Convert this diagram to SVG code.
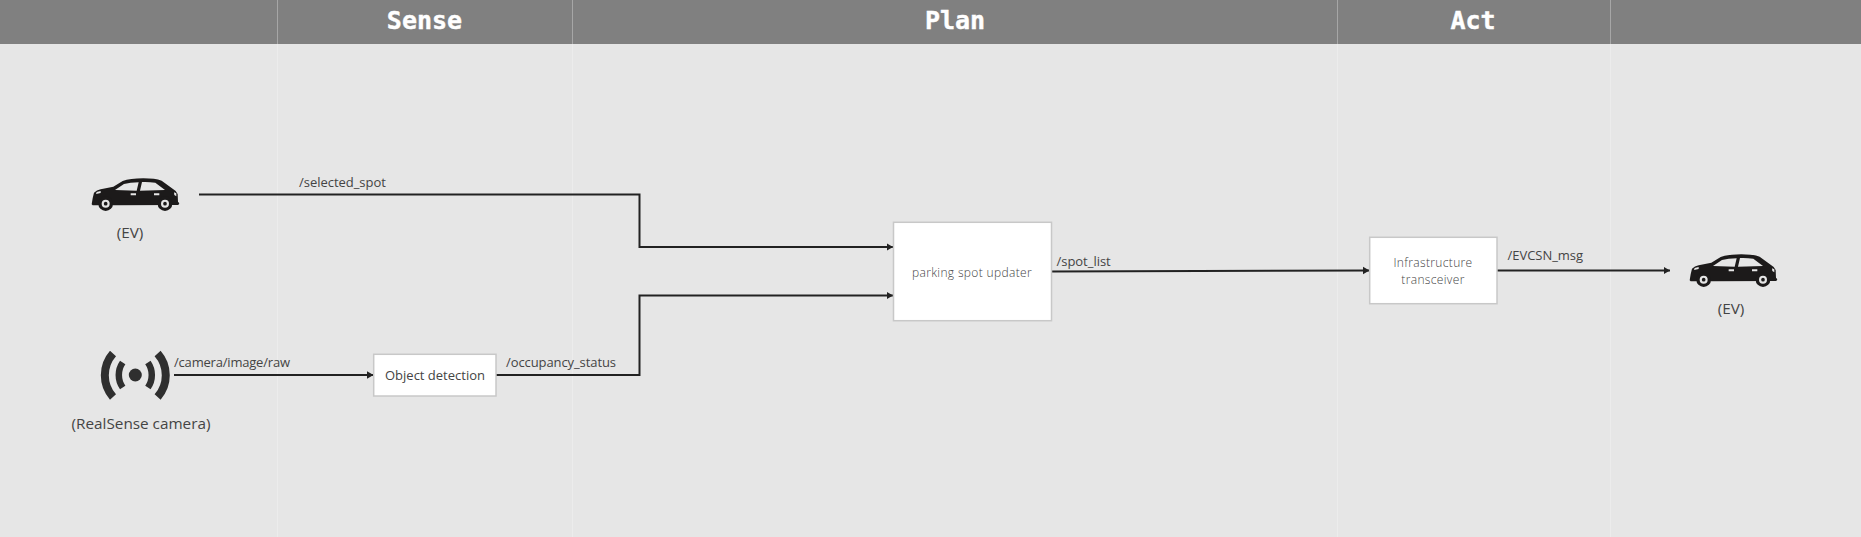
<svg xmlns="http://www.w3.org/2000/svg" width="1861" height="537" viewBox="0 0 1861 537">
<style>
text{font-family:"Open Sans","Noto Sans",sans-serif;fill:#444}
.hd{font-family:"DejaVu Sans Mono","Liberation Mono",monospace;font-weight:700;font-size:25px;fill:#fff;text-anchor:middle;stroke:#fff;stroke-width:.4}
.lb{font-size:13px;letter-spacing:-.03px}
.cap{font-size:15.300px}
.nd{fill:#fff;stroke:#c8c8c8;stroke-width:1.5}
.tx{text-anchor:middle;font-size:13px}
.sm{text-anchor:middle;font-size:12px;letter-spacing:.35px;font-weight:300}
.cn{fill:none;stroke:#222;stroke-width:2}
.ar{marker-end:url(#ah)}
.cl{stroke:#ececec;stroke-width:1}
.ch{stroke:#a6a6a6;stroke-width:1}
.ic{fill:none;stroke:#2f2f2f}
</style>
<defs>
<marker id="ah" markerUnits="userSpaceOnUse" markerWidth="8" markerHeight="9" viewBox="0 -4.500 8 9" refX="6.500" refY="0" orient="auto"><path d="M0,-3.800L6.500,0L0,3.800z" fill="#222"/></marker>
<symbol id="car" overflow="visible">
<path fill="#1c1a1a" fill-rule="evenodd" d="M35,103L38,85L42,68Q50,60 62,58L100,50L128,33Q150,26 190,25Q225,25 245,32L280,58Q291,64 293,72L294,95L298,100L295,105L100,106L38,106z M105,60L170,62L176,37Q150,37 132,42z M180,62L255,60L226,38Q205,35 186,36z"/>
<path fill="#e6e6e6" d="M152,70h16v6h-16z M222,70h16v6h-16z M50,66l12,-3v6l-14,3z M282,67l7,3v9l-6,-4z"/>
<circle cx="77" cy="101" r="22" fill="#1c1a1a"/><circle cx="77" cy="101" r="12" fill="#e6e6e6"/><circle cx="77" cy="101" r="5.500" fill="#1c1a1a"/>
<circle cx="255" cy="101" r="22" fill="#1c1a1a"/><circle cx="255" cy="101" r="12" fill="#e6e6e6"/><circle cx="255" cy="101" r="5.500" fill="#1c1a1a"/>
</symbol>
</defs>
<rect width="1861" height="537" fill="#e6e6e6"/>
<g id="header">
<rect width="1861" height="44" fill="#808080"/>
<path class="cl" d="M277.5,44V537M572.5,44V537M1337.5,44V537M1610.5,44V537"/>
<path class="ch" d="M277.5,0V44M572.5,0V44M1337.5,0V44M1610.5,0V44"/>
<text class="hd" x="424.500" y="29">Sense</text>
<text class="hd" x="955" y="29">Plan</text>
<text class="hd" x="1473" y="29">Act</text>
</g>
<g id="connectors">
<path class="cn ar" d="M199,194.500H639.500V247H893"/>
<path class="cn ar" d="M496,375H639.500V295.500H893"/>
<path class="cn ar" d="M174,375H373.500"/>
<path class="cn ar" d="M1051.500,271.500L1369.500,270.500"/>
<path class="cn ar" d="M1497,270.500H1670"/>
<text class="lb" x="299" y="187.300">/selected_spot</text>
<text class="lb" x="174" y="367" textLength="116" lengthAdjust="spacing">/camera/image/raw</text>
<text class="lb" x="506" y="367" textLength="110" lengthAdjust="spacing">/occupancy_status</text>
<text class="lb" x="1056.500" y="265.500">/spot_list</text>
<text class="lb" x="1507.500" y="260">/EVCSN_msg</text>
</g>
<g id="ev-source">
<use href="#car" transform="translate(80,170) scale(.3333)"/>
<text class="cap" x="130" y="238" text-anchor="middle">(EV)</text>
</g>
<g id="camera">
<path class="ic" stroke-width="8" d="M113,353.500A33,33 0 0 0 113,397M157.600,353.500A33,33 0 0 1 157.600,397"/>
<path class="ic" stroke-width="6.500" d="M122.700,362.500A22,22 0 0 0 122.700,387.500M147.900,362.500A22,22 0 0 1 147.900,387.500"/>
<circle cx="135.300" cy="375" r="6.500" fill="#2f2f2f"/>
<text class="cap" x="71.500" y="429">(RealSense camera)</text>
</g>
<g id="object-detection">
<rect class="nd" x="373.700" y="354.300" width="122.300" height="41.700"/>
<text class="tx" x="435" y="379.500">Object detection</text>
</g>
<g id="parking-spot-updater">
<rect class="nd" x="893.500" y="222.300" width="158" height="98.400"/>
<text class="sm" x="972" y="277">parking spot updater</text>
</g>
<g id="infrastructure-transceiver">
<rect class="nd" x="1369.700" y="237.300" width="127.300" height="66.400"/>
<text class="sm" x="1433" y="267">Infrastructure</text>
<text class="sm" x="1433" y="284">transceiver</text>
</g>
<g id="ev-target">
<use href="#car" transform="translate(1678,246) scale(.3333)"/>
<text class="cap" x="1731" y="314" text-anchor="middle">(EV)</text>
</g>
</svg>
